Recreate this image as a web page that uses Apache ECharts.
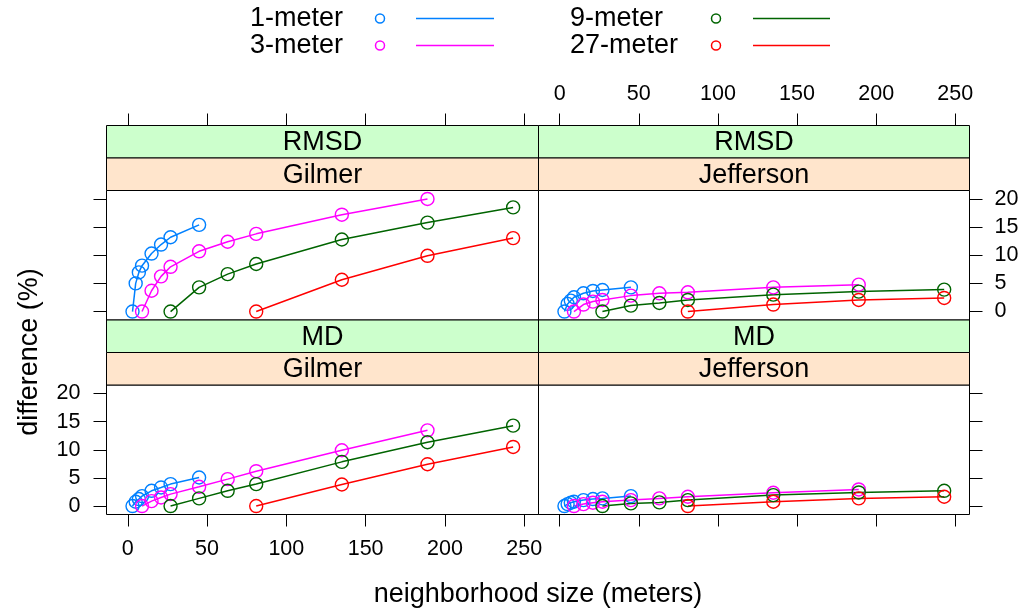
<!DOCTYPE html>
<html>
<head>
<meta charset="utf-8">
<script src="https://cdn.jsdelivr.net/npm/echarts@6/dist/echarts.min.js"></script>
<style>
  html, body { margin: 0; padding: 0; background: #fff; }
  #chart { width: 1023px; height: 613px; }
</style>
</head>
<body>
<div id="chart"></div>
<script>
// Neighborhood sizes (meters) evaluated for each source resolution
const sizes1 = [3, 5, 7, 9, 15, 21, 27, 45];
const sizes3 = [9, 15, 21, 27, 45, 63, 81, 135, 189];
const sizes9 = [27, 45, 63, 81, 135, 189, 243];
const sizes27 = [81, 135, 189, 243];

// Resolution groups
const groups = ['1-meter', '3-meter', '9-meter', '27-meter'];
const groupColors = ['#0080ff', '#ff00ff', '#006400', '#ff0000'];

// RMSD, Gilmer county (%)
const rmsdGilmer1 = [0, 5.0, 6.95, 8.15, 10.3, 11.9, 13.2, 15.4];
const rmsdGilmer3 = [0, 3.7, 6.25, 7.95, 10.7, 12.4, 13.8, 17.2, 20.0];
const rmsdGilmer9 = [0, 4.3, 6.65, 8.45, 12.8, 15.8, 18.5];
const rmsdGilmer27 = [0, 5.65, 9.9, 13.05];

// RMSD, Jefferson county (%)
const rmsdJefferson1 = [0, 1.36, 1.95, 2.54, 3.24, 3.66, 3.83, 4.3];
const rmsdJefferson3 = [0, 1.24, 1.77, 2.06, 2.83, 3.24, 3.42, 4.3, 4.78];
const rmsdJefferson9 = [0, 1.06, 1.53, 2.06, 3.0, 3.54, 3.9];
const rmsdJefferson27 = [0, 1.24, 2.06, 2.42];

// MD, Gilmer county (%)
const mdGilmer1 = [0, 0.77, 1.24, 1.77, 2.71, 3.3, 3.9, 5.07];
const mdGilmer3 = [0, 0.88, 1.53, 2.12, 3.42, 4.78, 6.19, 9.91, 13.45];
const mdGilmer9 = [0, 1.36, 2.71, 3.9, 7.85, 11.33, 14.28];
const mdGilmer27 = [0, 3.83, 7.43, 10.5];

// MD, Jefferson county (%)
const mdJefferson1 = [0, 0.35, 0.59, 0.77, 1.06, 1.24, 1.36, 1.77];
const mdJefferson3 = [0, 0.35, 0.59, 0.77, 1.06, 1.36, 1.65, 2.36, 2.95];
const mdJefferson9 = [0, 0.47, 0.65, 1.06, 1.95, 2.42, 2.71];
const mdJefferson27 = [0, 0.77, 1.36, 1.65];

// Tick labels
const xTicks = [0, 50, 100, 150, 200, 250];
const yTicks = [0, 5, 10, 15, 20];

const FONT = 'Liberation Sans, Arial, sans-serif';
const TEXT_SIZE = 27;
const TICK_SIZE = 21.5;
const sizeSets = [sizes1, sizes3, sizes9, sizes27];

// Panel layout: [left, top, width, height]
const panelDefs = [
  { stat: 'RMSD', site: 'Gilmer',    box: [106.5, 190.5, 432, 129.5], values: [rmsdGilmer1, rmsdGilmer3, rmsdGilmer9, rmsdGilmer27],
    xPos: 'top', xLabels: false, yPos: 'left', yLabels: false },
  { stat: 'RMSD', site: 'Jefferson', box: [538.5, 190.5, 431, 129.5], values: [rmsdJefferson1, rmsdJefferson3, rmsdJefferson9, rmsdJefferson27],
    xPos: 'top', xLabels: true, yPos: 'right', yLabels: true },
  { stat: 'MD',   site: 'Gilmer',    box: [106.5, 385, 432, 129.5], values: [mdGilmer1, mdGilmer3, mdGilmer9, mdGilmer27],
    xPos: 'bottom', xLabels: true, yPos: 'left', yLabels: true },
  { stat: 'MD',   site: 'Jefferson', box: [538.5, 385, 431, 129.5], values: [mdJefferson1, mdJefferson3, mdJefferson9, mdJefferson27],
    xPos: 'bottom', xLabels: false, yPos: 'right', yLabels: false }
];

const STRIP_H = 32.5;
const grids = [], xAxes = [], yAxes = [], series = [], graphics = [];

panelDefs.forEach((p, i) => {
  const [l, t, w, h] = p.box;
  grids.push({ left: l, top: t, width: w, height: h, show: true,
    borderColor: '#000', borderWidth: 1, backgroundColor: 'transparent' });

  // x axis: ticks sit above the strips for the upper row
  xAxes.push({
    type: 'value', gridIndex: i, min: -13.4, max: 259,
    position: p.xPos, offset: p.xPos === 'top' ? 2 * STRIP_H : 0,
    axisLine: { show: false, onZero: false },
    splitLine: { show: false },
    axisTick: { show: true, inside: false, length: 12, customValues: xTicks,
      lineStyle: { color: '#000', width: 1 } },
    axisLabel: { show: p.xLabels, customValues: xTicks, margin: p.xPos === 'top' ? 20 : 24,
      color: '#000', fontSize: TICK_SIZE, fontFamily: FONT }
  });

  yAxes.push({
    type: 'value', gridIndex: i, min: -1.5, max: 21.5,
    position: p.yPos,
    axisLine: { show: false, onZero: false },
    splitLine: { show: false },
    axisTick: { show: true, inside: false, length: 13, customValues: yTicks,
      lineStyle: { color: '#000', width: 1 } },
    axisLabel: { show: p.yLabels, customValues: yTicks, margin: p.yPos === 'left' ? 26 : 25,
      color: '#000', fontSize: TICK_SIZE, fontFamily: FONT }
  });

  // Open circles joined by lines, one series per resolution
  p.values.forEach((vals, g) => {
    series.push({
      type: 'line', name: groups[g], xAxisIndex: i, yAxisIndex: i,
      data: sizeSets[g].map((s, k) => [s, vals[k]]),
      symbol: 'circle', symbolSize: 13, showAllSymbol: true,
      lineStyle: { color: groupColors[g], width: 1.5 },
      itemStyle: { color: 'rgba(0,0,0,0)', borderColor: groupColors[g], borderWidth: 1.4 },
      emphasis: { disabled: true },
      animation: false
    });
  });

  // Two-level strips: statistic on top, county below
  const outerTop = t - 2 * STRIP_H, innerTop = t - STRIP_H;
  [[outerTop, '#ccffcc', p.stat], [innerTop, '#ffe5cc', p.site]].forEach(([y, fill, label]) => {
    graphics.push({
      type: 'rect', silent: true, z: 10,
      shape: { x: l, y: y, width: w, height: STRIP_H },
      style: { fill: fill, stroke: '#000', lineWidth: 1 }
    });
    graphics.push({
      type: 'text', silent: true, z: 11,
      x: l + w / 2, y: y + STRIP_H / 2 + 1,
      style: { text: label, fill: '#000', font: TEXT_SIZE + 'px ' + FONT, align: 'center', verticalAlign: 'middle' }
    });
  });
});

// Key at the top: label, point symbol, line sample
const keyCols = [{ tx: 250, cx: 380, lx0: 416, lx1: 494 }, { tx: 570, cx: 716, lx0: 753, lx1: 830 }];
const keyRows = [18.5, 45.5];
groups.forEach((name, g) => {
  const col = keyCols[Math.floor(g / 2)], ry = keyRows[g % 2];
  graphics.push({ type: 'text', silent: true, x: col.tx, y: ry,
    style: { text: name, fill: '#000', font: TEXT_SIZE + 'px ' + FONT, align: 'left', verticalAlign: 'middle' } });
  graphics.push({ type: 'circle', silent: true, shape: { cx: col.cx, cy: ry, r: 4.5 },
    style: { fill: 'none', stroke: groupColors[g], lineWidth: 1.5 } });
  graphics.push({ type: 'line', silent: true, shape: { x1: col.lx0, y1: ry, x2: col.lx1, y2: ry },
    style: { stroke: groupColors[g], lineWidth: 1.5 } });
});

// Axis titles
graphics.push({ type: 'text', silent: true, x: 538, y: 595,
  style: { text: 'neighborhood size (meters)', fill: '#000', font: TEXT_SIZE + 'px ' + FONT, align: 'center', verticalAlign: 'middle' } });
graphics.push({ type: 'text', silent: true, x: 30, y: 352, rotation: Math.PI / 2,
  style: { text: 'difference (%)', fill: '#000', font: TEXT_SIZE + 'px ' + FONT, align: 'center', verticalAlign: 'middle' } });

const chart = echarts.init(document.getElementById('chart'), null, { renderer: 'canvas' });
chart.setOption({
  animation: false,
  backgroundColor: '#fff',
  grid: grids,
  xAxis: xAxes,
  yAxis: yAxes,
  series: series,
  graphic: graphics
});
</script>
</body>
</html>
